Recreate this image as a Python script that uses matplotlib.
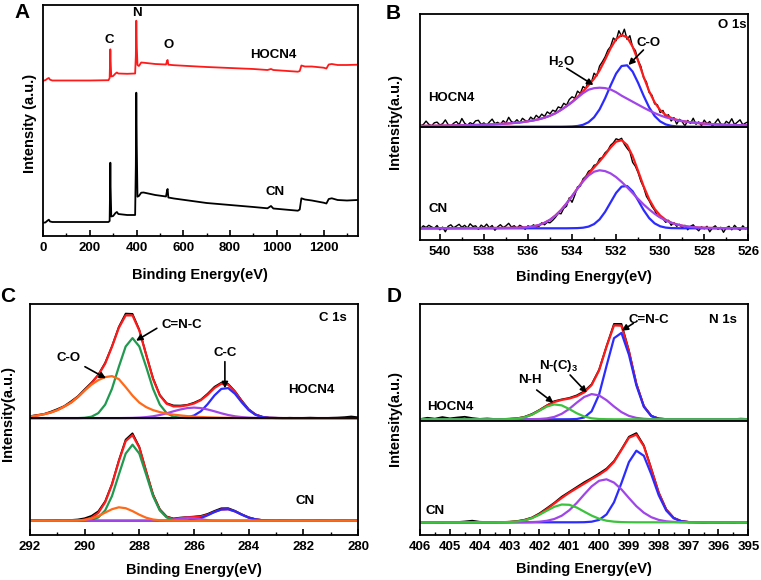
import numpy as np
import matplotlib
matplotlib.use('Agg')
import matplotlib.pyplot as plt
from matplotlib.ticker import MultipleLocator

plt.rcParams['font.family'] = ['Liberation Sans', 'DejaVu Sans']
plt.rcParams['font.weight'] = 'bold'
plt.rcParams['mathtext.fontset'] = 'custom'
plt.rcParams['mathtext.rm'] = 'Liberation Sans:bold'
plt.rcParams['mathtext.bf'] = 'Liberation Sans:bold'
plt.rcParams['mathtext.it'] = 'Liberation Sans:bold'

# ---------------- A: survey spectra (heights in a.u.) ----------------
A_EV = [0, 10, 20, 25, 30, 40, 100, 200, 280, 285,
        287, 288, 289, 292, 300, 310, 316, 322, 360, 394,
        397, 399, 401, 404, 410, 420, 430, 480, 526, 531,
        533, 536, 560, 700, 900, 960, 975, 985, 1090, 1098,
        1105, 1120, 1150, 1200, 1212, 1222, 1235, 1260, 1300, 1345]
A_HOCN4 = [155.3, 155.8, 157.5, 158.0, 156.3, 155.5, 155.5, 155.5, 155.8, 158.0,
           175.0, 186.7, 176.0, 159.5, 160.0, 162.5, 163.5, 162.5, 162.2, 162.5,
           180.0, 215.3, 190.0, 171.0, 170.0, 173.5, 173.3, 172.0, 171.5, 175.5,
           176.0, 171.3, 170.8, 169.0, 167.0, 166.0, 167.0, 166.0, 164.3, 165.0,
           170.5, 169.5, 169.5, 168.3, 167.5, 171.5, 172.0, 171.0, 171.0, 171.3]
A_CN = [13.3, 13.5, 15.5, 16.3, 14.5, 14.0, 14.0, 14.0, 14.0, 15.0,
        50.0, 73.3, 50.0, 19.5, 20.0, 23.0, 24.0, 22.0, 21.0, 21.0,
        70.0, 143.3, 90.0, 39.3, 40.0, 43.3, 43.5, 41.0, 39.5, 46.0,
        47.0, 38.5, 37.5, 33.0, 29.0, 27.7, 30.0, 27.5, 25.3, 26.5,
        37.7, 36.5, 35.5, 33.3, 32.5, 37.0, 37.7, 36.0, 35.5, 36.0]

# ---------------- B: O 1s (541 -> 526 eV, 0.25 eV steps) ----------------
B_EV = np.linspace(541, 526, 61)
B_RAW_EV = np.linspace(541, 526, 121)
B_HOCN4_H2O = [0.75, 0.8, 0.9, 0.95, 1.0, 1.1, 1.2, 1.3, 1.4, 1.5,
               1.65, 1.8, 2.0, 2.2, 2.5, 2.8, 3.1, 3.5, 4.0, 4.6,
               5.4, 6.3, 7.5, 9.0, 11.0, 13.5, 16.8, 20.5, 24.5, 29.0,
               33.5, 37.0, 38.5, 39.0, 38.6, 37.2, 34.5, 31.0, 28.0, 25.0,
               22.0, 19.0, 16.2, 13.6, 11.3, 9.4, 7.9, 6.6, 5.6, 4.8,
               4.1, 3.6, 3.1, 2.7, 2.4, 2.1, 1.9, 1.7, 1.6, 1.5, 1.4]
B_HOCN4_CO = [0] * 27 + [0.1, 0.25, 0.7, 1.9, 4.5, 9.4, 17.3, 28.4, 41.2, 53.1,
                         60.7, 61.4, 55.1, 43.8, 30.9, 19.3, 10.7, 5.3, 2.3, 0.9,
                         0.3, 0.1] + [0] * 12
B_CN_H2O = [0.05, 0.05, 0.05, 0.1, 0.1, 0.1, 0.1, 0.15, 0.15, 0.2,
            0.2, 0.2, 0.25, 0.25, 0.3, 0.3, 0.35, 0.4, 0.5, 0.7,
            1.1, 1.9, 3.3, 5.5, 8.5, 12.8, 18.2, 24.8, 32.1, 39.7,
            46.9, 52.8, 56.6, 58.0, 57.2, 54.9, 51.2, 46.4, 41.0, 35.2,
            29.4, 23.8, 18.9, 14.5, 10.8, 7.8, 5.5, 3.8, 2.6, 1.7,
            1.1, 0.7, 0.5, 0.35, 0.25, 0.2, 0.15, 0.1, 0.1, 0.1, 0.1]
B_CN_CO = [0] * 28 + [0.1, 0.2, 0.6, 1.7, 4.2, 8.9, 16.4, 25.9, 35.4, 41.7,
                      42.3, 37.0, 27.9, 18.2, 10.2, 4.9, 2.0, 0.7, 0.2, 0.1] + [0] * 13
B_HOCN4_RAW = [3.2, 1.0, 2.1, 5.6, 2.4, 0.8, 3.9, 4.6, 1.7, 2.9,
               6.8, 2.2, 0.6, 3.4, 5.1, 2.0, 8.2, 3.5, 1.4, 4.0,
               2.6, 5.9, 6.4, 2.3, 3.8, 1.5, 4.7, 7.6, 3.1, 4.4,
               2.2, 6.0, 3.6, 9.4, 5.0, 4.1, 7.0, 3.9, 8.4, 6.2,
               5.3, 9.6, 7.1, 11.4, 8.8, 12.6, 10.2, 14.8, 12.9, 16.5,
               15.2, 19.8, 18.6, 23.4, 21.5, 27.2, 29.9, 28.4, 35.6, 33.1,
               40.2, 38.0, 47.3, 43.9, 53.5, 50.8, 60.7, 64.9, 69.8, 76.5,
               80.2, 88.7, 85.9, 96.0, 90.4, 97.5, 87.2, 91.0, 79.4, 76.2,
               66.1, 60.3, 48.7, 44.9, 34.2, 31.6, 22.8, 21.9, 14.1, 16.3,
               9.8, 12.0, 5.7, 9.1, 2.6, 7.4, 4.9, 0.8, 6.3, 3.2,
               8.5, 2.4, 4.8, 1.1, 6.6, 3.0, 5.2, 0.4, 4.1, 7.7,
               2.8, 1.2, 5.4, 3.3, 8.0, 2.1, 4.5, 6.9, 1.9, 3.7, 5.0]
B_CN_RAW = [1.5, -0.5, 2.5, 0.8, 3.0, 1.4, 0.0, 2.8, -1.5, 1.2,
            -3.5, 2.0, 3.5, 0.5, 2.2, 4.0, 1.0, 3.0, 0.2, 4.5,
            1.8, 2.5, -1.0, 3.2, 1.0, 4.2, 0.5, 2.8, -2.0, 1.5,
            3.6, 0.8, 2.4, 5.0, 1.2, 2.6, 0.0, 3.0, 1.5, -1.0,
            2.5, 1.0, 3.5, 1.5, 2.0, 5.5, 3.5, 6.0, 5.5, 8.0,
            11.0, 15.0, 14.5, 20.0, 22.0, 30.5, 26.0, 33.0, 41.5, 42.0,
            49.5, 52.0, 57.0, 58.5, 63.0, 64.0, 69.5, 71.0, 75.5, 78.0,
            83.0, 85.5, 89.5, 88.5, 90.0, 84.0, 80.0, 76.5, 66.0, 62.0,
            55.5, 47.0, 41.0, 32.0, 27.5, 22.0, 18.0, 12.5, 11.0, 9.5,
            6.0, 8.0, 3.0, 5.5, 2.0, 4.0, 0.5, 3.0, -1.5, 2.0,
            3.5, 0.0, -2.5, 1.5, -0.5, 2.0, -3.5, 0.5, 2.5, -1.0,
            1.0, -4.0, 0.5, 2.0, -1.5, 3.0, 0.0, -2.0, 2.5, -0.5, 1.5]

# ---------------- C: C 1s (292 -> 280 eV, 0.25 eV steps) ----------------
C_EV = np.linspace(292, 280, 49)
C_HOCN4_CO = [1.6, 2.5, 3.8, 5.5, 8.0, 11.5, 15.5, 21.0, 27.5, 33.5,
              38.0, 41.0, 42.0, 39.0, 31.0, 22.5, 15.5, 11.0, 8.0, 6.0,
              4.5, 3.5, 2.7, 2.0, 1.5, 1.1, 0.8, 0.6, 0.4, 0.3,
              0.2, 0.1] + [0] * 17
C_HOCN4_CNC = [0] * 8 + [0.3, 1.4, 5.0, 13.5, 29.4, 51.3, 71.6, 80.0, 71.6, 51.3,
                         29.4, 13.5, 5.0, 1.4, 0.3] + [0] * 26
C_HOCN4_MID = [0] * 14 + [0.1, 0.2, 0.5, 1.0, 1.8, 3.1, 4.8, 6.8, 8.6, 10.0,
                          10.5, 10.0, 8.6, 6.8, 4.8, 3.1, 1.8, 1.0, 0.5, 0.2,
                          0.1] + [0] * 14
C_HOCN4_CC = [0] * 22 + [0.2, 0.8, 2.6, 6.8, 14.0, 22.7, 29.2, 30.0, 24.3, 15.6,
                         8.0, 3.3, 1.0, 0.3, 0.1] + [0] * 12
C_CN_CO = [0] * 6 + [0.1, 0.2, 0.8, 2.2, 4.6, 8.1, 11.5, 13.4, 12.5, 9.6,
                     6.0, 3.0, 1.2, 0.4, 0.1] + [0] * 28
C_CN_CNC = [0] * 8 + [0.2, 0.8, 3.3, 10.3, 24.7, 46.1, 67.1, 76.0, 67.1, 46.1,
                      24.7, 10.3, 3.3, 0.8, 0.2] + [0] * 26
C_CN_MID = [0] * 20 + [0.3, 1.0, 2.2, 3.0, 2.6, 1.5, 0.5, 0.1] + [0] * 21
C_CN_CC = [0] * 22 + [0.1, 0.3, 1.0, 2.6, 5.4, 8.7, 11.2, 11.5, 9.3, 6.0,
                      3.1, 1.3, 0.4, 0.1] + [0] * 13
# raw data sits slightly above the fit envelope
C_HOCN4_RESID = [0.3, 0.6, 0.2, 0.8, 1.0, 0.5, 1.2, 0.8, 1.0, 0.6,
                 0.4, 0.8, 0.5, 0.9, 1.8, 1.5, 0.6, 0.3, 0.8, 0.5,
                 0.6, 0.9, 0.7, 0.4, 0.8, 0.6, 1.0, 1.2, 1.0, 0.8,
                 0.5, 0.7, 0.4, 0.2, 0.3, 0.1, 0.2, 0.0, 0.3, 0.1,
                 0.2, 0.4, 0.2, 0.0, 0.3, 0.5, 0.9, 1.6, 0.8]
C_CN_RESID = [0.2, 0.4, 0.1, 0.3, 0.5, 0.2, 0.6, 1.0, 1.4, 1.8,
              1.5, 1.0, 0.6, 0.8, 1.5, 1.8, 0.7, 0.4, 0.6, 0.8,
              0.5, 0.4, 0.6, 0.3, 0.5, 0.7, 0.9, 1.0, 1.2, 1.0,
              0.6, 0.4, 0.3, 0.2, 0.3, 0.1, 0.2, 0.3, 0.1, 0.0,
              0.2, 0.1, 0.3, 0.2, 0.0, 0.2, 0.3, 0.1, 0.2]

# ---------------- D: N 1s (406 -> 395 eV, 0.25 eV steps) ----------------
D_EV = np.linspace(406, 395, 45)
D_HOCN4_NH = [0] * 11 + [0.05, 0.2, 0.7, 2.0, 4.6, 8.6, 12.7, 14.9, 13.9, 10.3,
                         6.1, 2.8, 1.0, 0.3, 0.1] + [0] * 19
D_HOCN4_NC3 = [0] * 15 + [0.1, 0.3, 0.9, 2.4, 5.5, 10.4, 16.6, 22.3, 25.2, 23.9,
                          19.1, 12.8, 7.2, 3.4, 1.4, 0.5, 0.1] + [0] * 13
D_HOCN4_CNC = [0] * 20 + [0.05, 0.3, 1.8, 8.0, 24.7, 53.4, 81.1, 86.4, 64.6, 33.9,
                          12.5, 3.2, 0.6, 0.1] + [0] * 11
D_CN_NH = [0] * 11 + [0.1, 0.3, 0.8, 1.9, 4.1, 7.5, 11.6, 15.5, 17.8, 17.5,
                      14.8, 10.7, 6.7, 3.6, 1.6, 0.65, 0.2, 0.05] + [0] * 16
D_CN_NC3 = [0] * 14 + [0.05, 0.2, 0.6, 1.5, 3.3, 6.6, 12.0, 19.3, 27.8, 35.9,
                       41.5, 43.0, 39.7, 32.9, 24.3, 16.1, 9.6, 5.1, 2.4, 1.0,
                       0.4, 0.1] + [0] * 9
D_CN_CNC = [0] * 22 + [0.1, 0.6, 2.4, 7.9, 20.0, 39.3, 60.2, 71.6, 66.5, 48.0,
                       27.0, 11.8, 4.0, 1.1, 0.2, 0.05] + [0] * 7
D_HOCN4_RESID = [0.2, 1.5, 0.6, 2.2, 0.9, 1.8, 2.5, 1.2, 0.4, 0.8,
                 0.3, 0.2, 0.4, 0.3, 0.5, 0.6, 0.4, 0.3, 0.8, 0.5,
                 0.6, 0.9, 1.1, 0.8, 0.6, 0.5, 1.5, 1.8, 0.7, 0.4,
                 0.3, 0.2, 0.1, 0.2, 0.0, 0.1, 0.2, 0.0, 0.1, 0.3,
                 0.1, 0.0, 0.2, 0.6, 0.3]
D_CN_RESID = [0.1, 0.3, 0.2, 0.0, 0.4, 0.2, 0.8, 1.6, 0.5, 0.2,
              0.3, 0.1, 0.2, 0.4, 0.6, 0.5, 0.8, 1.0, 0.7, 1.2,
              0.9, 1.1, 1.4, 1.0, 1.3, 1.2, 0.9, 0.6, 1.0, 1.5,
              0.8, 0.5, 0.3, 0.2, 0.1, 0.0, 0.2, 0.1, 0.0, 0.3,
              0.1, 0.2, 0.0, 0.4, 0.2]

RED = '#ff1a1a'
BLUE = '#2b2bff'
PURPLE = '#a046e8'
GREEN_C = '#1f9a4f'
GREEN_D = '#3cc23c'
ORANGE = '#ff6a1a'
LW_FIT = 1.6

W, H = 761, 580
fig = plt.figure(figsize=(W / 100, H / 100), dpi=100)


def px_axes(left, top, right, bottom):
    return fig.add_axes([left / W, 1 - bottom / H, (right - left) / W, (bottom - top) / H])


def style(ax, xlim, major, minor, height, ylabel, ylab_x, ylab_y, xlab_y):
    ax.set_xlim(*xlim)
    ax.set_ylim(0, height)
    ax.set_yticks([])
    ax.xaxis.set_major_locator(MultipleLocator(major))
    ax.xaxis.set_minor_locator(MultipleLocator(minor))
    ax.tick_params(axis='x', which='both', direction='in', top=False, labelsize=9.5, pad=4)
    ax.tick_params(axis='x', which='major', length=4, width=1.2)
    ax.tick_params(axis='x', which='minor', length=2.5, width=1.0)
    for s in ax.spines.values():
        s.set_linewidth(1.3)
    ax.set_xlabel('Binding Energy(eV)', fontsize=10.5, fontweight='bold')
    ax.xaxis.set_label_coords(0.5, xlab_y)
    ax.set_ylabel(ylabel, fontsize=10.5, fontweight='bold', va='center')
    ax.yaxis.set_label_coords(ylab_x, ylab_y)


def arrow(ax, tail, tip):
    ax.annotate('', xy=tip, xytext=tail,
                arrowprops=dict(arrowstyle='-|>', color='black', lw=1.2,
                                mutation_scale=9, shrinkA=0, shrinkB=0))


TXT = dict(fontsize=9.5, fontweight='bold', ha='center', va='center')

# ---------------- panel A ----------------
axA = px_axes(43, 5, 357.5, 236)
axA.plot(A_EV, A_CN, color='black', lw=1.3)
axA.plot(A_EV, A_HOCN4, color=RED, lw=1.3)
style(axA, (0, 1345), 200, 100, 231, 'Intensity (a.u.)', -0.041, 0.488, -32 / 231)
axA.text(281.6, 196, 'C', **TXT)
axA.text(400, 222.7, 'N', **TXT)
axA.text(535.7, 191, 'O', **TXT)
axA.text(984, 181, 'HOCN4', **TXT)
axA.text(993, 44.3, 'CN', **TXT)

# ---------------- panel B ----------------
axB = px_axes(420, 14, 748.3, 240)
b_top, b_bot = 113.3, 11.7
b_h2o, b_co = np.array(B_HOCN4_H2O), np.array(B_HOCN4_CO)
c_h2o, c_co = np.array(B_CN_H2O), np.array(B_CN_CO)
axB.plot(B_RAW_EV, b_top + np.array(B_HOCN4_RAW), color='black', lw=1.0)
axB.plot(B_RAW_EV, b_bot + np.array(B_CN_RAW), color='black', lw=1.0)
for base, h2o, co in [(b_top, b_h2o, b_co), (b_bot, c_h2o, c_co)]:
    axB.plot(B_EV, base + h2o + co, color=RED, lw=LW_FIT)
    axB.plot(B_EV, base + co, color=BLUE, lw=LW_FIT)
    axB.plot(B_EV, base + h2o, color=PURPLE, lw=LW_FIT)
axB.axhline(b_top, color='black', lw=1.3)
style(axB, (540.9, 526), 2, 1, 226, 'Intensity(a.u.)', -0.076, 0.523, -30 / 226)
axB.text(0.993, 0.951, 'O 1s', transform=axB.transAxes, fontsize=9.5,
         fontweight='bold', ha='right', va='center')
axB.text(539.46, 141.7, 'HOCN4', **TXT)
axB.text(540.07, 30.7, 'CN', **TXT)
axB.text(534.47, 177.3, r'H$_\mathbf{2}$O', **TXT)
axB.text(530.54, 196.7, 'C-O', **TXT)
arrow(axB, (534.24, 171.7), (533.03, 155))
arrow(axB, (530.76, 190), (531.44, 175))

# ---------------- panel C ----------------
axC = px_axes(30, 304, 358, 535)
c_top, c_bot = 116.9, 14.3
hocn4 = [np.array(v) for v in (C_HOCN4_CO, C_HOCN4_CNC, C_HOCN4_MID, C_HOCN4_CC)]
cn = [np.array(v) for v in (C_CN_CO, C_CN_CNC, C_CN_MID, C_CN_CC)]
for base, comps, resid in [(c_top, hocn4, C_HOCN4_RESID), (c_bot, cn, C_CN_RESID)]:
    env = sum(comps)
    axC.plot(C_EV, base + env + np.array(resid), color='black', lw=1.3)
    axC.plot(C_EV, base + env, color=RED, lw=LW_FIT)
    axC.plot(C_EV, base + comps[1], color=GREEN_C, lw=LW_FIT)
    axC.plot(C_EV, base + comps[3], color=BLUE, lw=LW_FIT)
    axC.plot(C_EV, base + comps[2], color=PURPLE, lw=LW_FIT)
    axC.plot(C_EV, base + comps[0], color=ORANGE, lw=LW_FIT)
axC.axhline(116.7, color='black', lw=1.3)
style(axC, (292, 280), 2, 1, 231, 'Intensity(a.u.)', -0.066, 0.527, -28 / 231)
axC.text(0.966, 0.938, 'C 1s', transform=axC.transAxes, fontsize=9.5,
         fontweight='bold', ha='right', va='center')
axC.text(281.69, 145, 'HOCN4', **TXT)
axC.text(281.94, 34, 'CN', **TXT)
axC.text(290.6, 176.7, 'C-O', **TXT)
axC.text(286.45, 210, 'C=N-C', **TXT)
axC.text(284.87, 181.7, 'C-C', **TXT)
arrow(axC, (289.99, 168.3), (289.22, 156.7))
arrow(axC, (287.36, 206.7), (288.12, 194.3))
arrow(axC, (284.87, 173.3), (284.87, 146.7))

# ---------------- panel D ----------------
axD = px_axes(420, 304, 748.3, 535)
d_top, d_bot = 115.7, 12.7
hocn4 = [np.array(v) for v in (D_HOCN4_NH, D_HOCN4_NC3, D_HOCN4_CNC)]
cn = [np.array(v) for v in (D_CN_NH, D_CN_NC3, D_CN_CNC)]
for base, comps, resid in [(d_top, hocn4, D_HOCN4_RESID), (d_bot, cn, D_CN_RESID)]:
    env = sum(comps)
    axD.plot(D_EV, base + env + np.array(resid), color='black', lw=1.3)
    axD.plot(D_EV, base + env, color=RED, lw=LW_FIT)
    axD.plot(D_EV, base + comps[2], color=BLUE, lw=LW_FIT)
    axD.plot(D_EV, base + comps[1], color=PURPLE, lw=LW_FIT)
    axD.plot(D_EV, base + comps[0], color=GREEN_D, lw=LW_FIT)
axD.axhline(114.3, color='black', lw=1.3)
style(axD, (406, 395), 1, 0.5, 231, 'Intensity(a.u.)', -0.076, 0.505, -27 / 231)
axD.text(0.966, 0.931, 'N 1s', transform=axD.transAxes, fontsize=9.5,
         fontweight='bold', ha='right', va='center')
axD.text(404.99, 128.3, 'HOCN4', **TXT)
axD.text(405.5, 24, 'CN', **TXT)
axD.text(402.31, 155, 'N-H', **TXT)
axD.text(401.36, 169, r'N-(C)$_\mathbf{3}$', **TXT)
axD.text(398.35, 215, 'C=N-C', **TXT)
arrow(axD, (402.09, 145), (401.53, 132.3))
arrow(axD, (400.97, 160), (400.41, 142.3))
arrow(axD, (398.85, 211.7), (399.24, 204.3))

# panel letters
for letter, x, y in [('A', 21.7, 12.5), ('B', 393, 13.5), ('C', 8, 297), ('D', 394, 297)]:
    fig.text(x / W, 1 - y / H, letter, fontsize=15, fontweight='bold', ha='center', va='center')

fig.savefig('out.png', dpi=100)
